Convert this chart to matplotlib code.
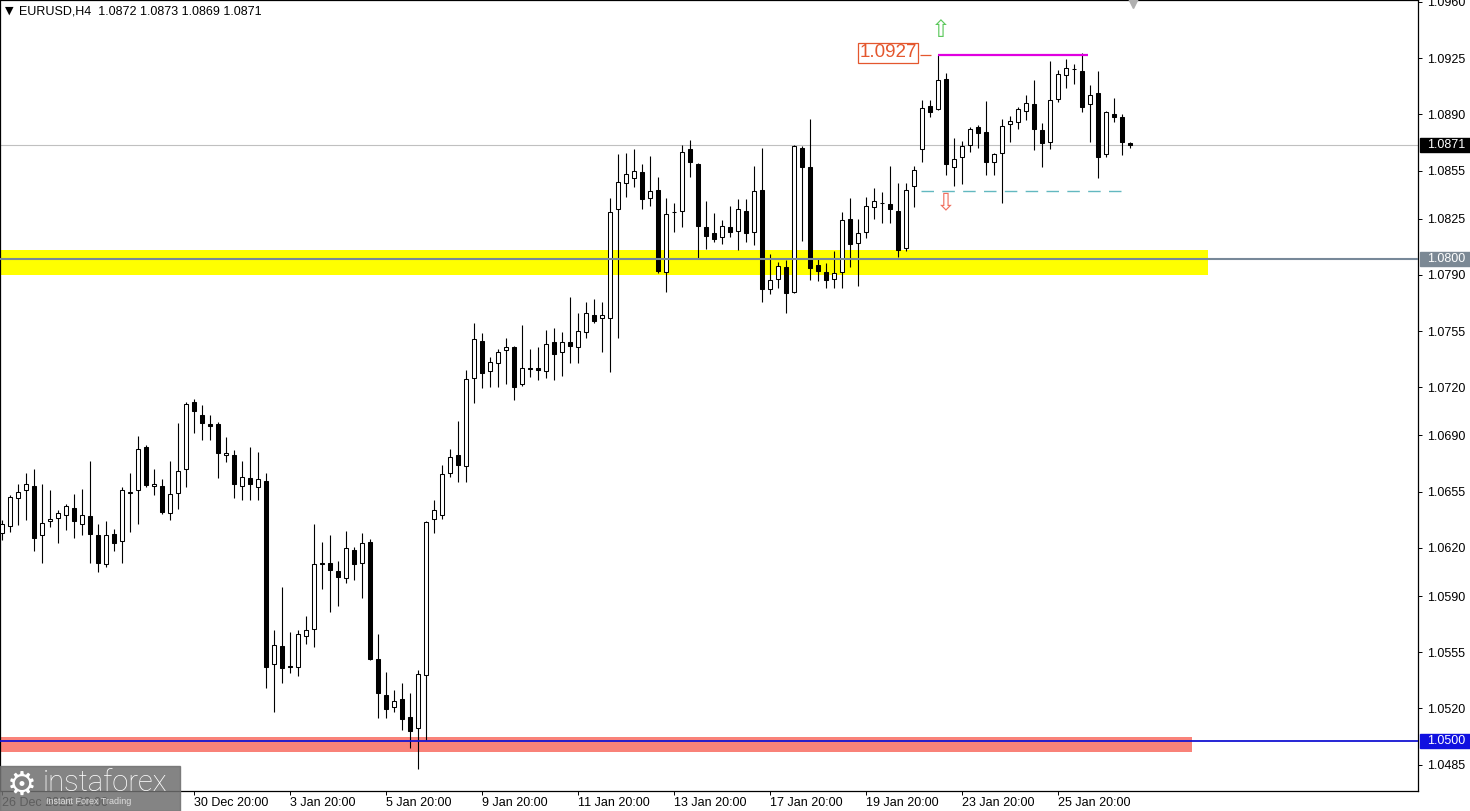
import numpy as np
import matplotlib.pyplot as plt
from matplotlib.patches import Rectangle
import matplotlib.transforms as mtransforms

# EURUSD H4 candles, 26 Dec 2022 20:00 .. 27 Jan 2023
opens = [1.06293, 1.06337, 1.06511, 1.06561, 1.06586, 1.06281, 1.06368, 1.06386, 1.06405, 1.06449,
         1.06349, 1.06399, 1.06281, 1.06100, 1.06287, 1.06243, 1.06542, 1.06561, 1.06829, 1.06586,
         1.06586, 1.06418, 1.06542, 1.06692, 1.07109, 1.07028, 1.06972, 1.06972, 1.06779, 1.06779,
         1.06586, 1.06636, 1.06580, 1.06617, 1.05477, 1.05589, 1.05465, 1.05459, 1.05652, 1.05695,
         1.06106, 1.06106, 1.06056, 1.06013, 1.06187, 1.06106, 1.06237, 1.05508, 1.05284, 1.05210,
         1.05259, 1.05147, 1.05079, 1.05409, 1.06380, 1.06405, 1.06667, 1.06779, 1.06710, 1.07258,
         1.07489, 1.07302, 1.07352, 1.07433, 1.07451, 1.07221, 1.07320, 1.07320, 1.07302, 1.07482,
         1.07420, 1.07482, 1.07451, 1.07545, 1.07650, 1.07632, 1.07632, 1.08311, 1.08472, 1.08504,
         1.08541, 1.08379, 1.08429, 1.07918, 1.08292, 1.08298, 1.08684, 1.08591, 1.08199, 1.08161,
         1.08136, 1.08199, 1.08174, 1.08298, 1.08167, 1.08429, 1.07812, 1.07875, 1.07949, 1.07794,
         1.08690, 1.08572, 1.07962, 1.07918, 1.07875, 1.07918, 1.08248, 1.08099, 1.08167, 1.08323,
         1.08348, 1.08342, 1.08298, 1.08068, 1.08454, 1.08684, 1.08952, 1.08933, 1.09120, 1.08572,
         1.08634, 1.08709, 1.08821, 1.08790, 1.08603, 1.08659, 1.08840, 1.08852, 1.08921, 1.08964,
         1.08803, 1.08728, 1.08996, 1.09145, 1.09182, 1.09170, 1.08964, 1.09033, 1.08653, 1.08902,
         1.08883, 1.08720]
highs = [1.06374, 1.06530, 1.06598, 1.06667, 1.06692, 1.06598, 1.06561, 1.06436, 1.06474, 1.06536,
         1.06567, 1.06741, 1.06349, 1.06368, 1.06318, 1.06580, 1.06667, 1.06897, 1.06841, 1.06692,
         1.06629, 1.06741, 1.06978, 1.07109, 1.07127, 1.07090, 1.07028, 1.06984, 1.06891, 1.06810,
         1.06741, 1.06829, 1.06797, 1.06667, 1.05689, 1.05957, 1.05677, 1.05689, 1.05776, 1.06349,
         1.06237, 1.06281, 1.06119, 1.06306, 1.06206, 1.06293, 1.06256, 1.05664, 1.05428, 1.05315,
         1.05359, 1.05297, 1.05440, 1.06368, 1.06499, 1.06716, 1.06816, 1.06990, 1.07308, 1.07601,
         1.07538, 1.07389, 1.07439, 1.07507, 1.07458, 1.07588, 1.07439, 1.07451, 1.07557, 1.07570,
         1.07545, 1.07763, 1.07663, 1.07731, 1.07750, 1.07731, 1.08379, 1.08653, 1.08659, 1.08684,
         1.08591, 1.08641, 1.08510, 1.08379, 1.08348, 1.08709, 1.08740, 1.08597, 1.08360, 1.08286,
         1.08242, 1.08329, 1.08373, 1.08373, 1.08578, 1.08690, 1.08030, 1.07981, 1.07993, 1.08709,
         1.08703, 1.08871, 1.07999, 1.07974, 1.08049, 1.08292, 1.08379, 1.08248, 1.08385, 1.08441,
         1.08416, 1.08578, 1.08472, 1.08472, 1.08578, 1.08989, 1.08989, 1.09270, 1.09157, 1.08753,
         1.08734, 1.08821, 1.08834, 1.08983, 1.08659, 1.08871, 1.08890, 1.08946, 1.09020, 1.09114,
         1.08846, 1.09232, 1.09176, 1.09245, 1.09213, 1.09280, 1.09083, 1.09170, 1.08921, 1.09002,
         1.08902, 1.08730]
lows = [1.06249, 1.06299, 1.06343, 1.06374, 1.06181, 1.06106, 1.06330, 1.06231, 1.06312, 1.06262,
        1.06281, 1.06106, 1.06050, 1.06081, 1.06181, 1.06106, 1.06299, 1.06349, 1.06580, 1.06530,
        1.06411, 1.06374, 1.06443, 1.06580, 1.06916, 1.06872, 1.06872, 1.06636, 1.06735, 1.06511,
        1.06499, 1.06499, 1.06499, 1.05328, 1.05178, 1.05359, 1.05421, 1.05402, 1.05602, 1.05583,
        1.05944, 1.05801, 1.05838, 1.05982, 1.06000, 1.05888, 1.05502, 1.05141, 1.05141, 1.05178,
        1.05066, 1.04954, 1.04823, 1.05004, 1.06293, 1.06380, 1.06642, 1.06611, 1.06611, 1.07103,
        1.07196, 1.07202, 1.07202, 1.07221, 1.07121, 1.07208, 1.07264, 1.07246, 1.07258, 1.07246,
        1.07271, 1.07352, 1.07352, 1.07507, 1.07601, 1.07420, 1.07296, 1.07507, 1.08385, 1.08448,
        1.08311, 1.08329, 1.07912, 1.07794, 1.08167, 1.08199, 1.08510, 1.08005, 1.08062, 1.08105,
        1.08093, 1.08136, 1.08055, 1.08105, 1.08086, 1.07731, 1.07781, 1.07819, 1.07663, 1.07788,
        1.08111, 1.07868, 1.07862, 1.07819, 1.07819, 1.07819, 1.07949, 1.07831, 1.08130, 1.08248,
        1.08223, 1.08223, 1.08012, 1.08049, 1.08323, 1.08603, 1.08883, 1.08927, 1.08522, 1.08454,
        1.08466, 1.08666, 1.08690, 1.08522, 1.08522, 1.08348, 1.08728, 1.08809, 1.08865, 1.08678,
        1.08572, 1.08684, 1.08977, 1.09064, 1.09089, 1.08915, 1.08728, 1.08504, 1.08634, 1.08852,
        1.08647, 1.08690]
closes = [1.06349, 1.06517, 1.06548, 1.06598, 1.06262, 1.06355, 1.06380, 1.06418, 1.06461, 1.06368,
          1.06405, 1.06287, 1.06106, 1.06281, 1.06231, 1.06561, 1.06548, 1.06816, 1.06592, 1.06598,
          1.06424, 1.06536, 1.06679, 1.07096, 1.07053, 1.06978, 1.06959, 1.06791, 1.06791, 1.06598,
          1.06642, 1.06598, 1.06629, 1.05459, 1.05596, 1.05452, 1.05459, 1.05664, 1.05689, 1.06100,
          1.06100, 1.06063, 1.06019, 1.06200, 1.06100, 1.06231, 1.05508, 1.05297, 1.05197, 1.05247,
          1.05135, 1.05060, 1.05415, 1.06362, 1.06436, 1.06660, 1.06766, 1.06716, 1.07252, 1.07501,
          1.07289, 1.07358, 1.07420, 1.07451, 1.07202, 1.07320, 1.07314, 1.07308, 1.07470, 1.07408,
          1.07482, 1.07458, 1.07551, 1.07663, 1.07613, 1.07650, 1.08292, 1.08479, 1.08529, 1.08547,
          1.08373, 1.08423, 1.07925, 1.08279, 1.08292, 1.08666, 1.08603, 1.08205, 1.08142, 1.08124,
          1.08205, 1.08167, 1.08311, 1.08161, 1.08423, 1.07812, 1.07868, 1.07956, 1.07788, 1.08703,
          1.08572, 1.07943, 1.07925, 1.07868, 1.07912, 1.08242, 1.08093, 1.08161, 1.08329, 1.08360,
          1.08348, 1.08311, 1.08055, 1.08429, 1.08553, 1.08939, 1.08915, 1.09114, 1.08591, 1.08622,
          1.08703, 1.08809, 1.08784, 1.08603, 1.08653, 1.08827, 1.08859, 1.08933, 1.08971, 1.08809,
          1.08722, 1.08989, 1.09151, 1.09189, 1.09182, 1.08946, 1.09020, 1.08634, 1.08915, 1.08883,
          1.08728, 1.08710]

date_ticks = [0, 24, 36, 48, 60, 72, 84, 96, 108, 120, 132]
date_labels = ['26 Dec 2022 20:00', '30 Dec 20:00', '3 Jan 20:00', '5 Jan 20:00', '9 Jan 20:00',
               '11 Jan 20:00', '13 Jan 20:00', '17 Jan 20:00', '19 Jan 20:00', '23 Jan 20:00',
               '25 Jan 20:00']
price_ticks = [1.0960, 1.0925, 1.0890, 1.0855, 1.0825, 1.0790, 1.0755, 1.0720, 1.0690,
               1.0655, 1.0620, 1.0590, 1.0555, 1.0520, 1.0485]

last_price = 1.0871
level_mid = 1.0800
level_low = 1.0500
yellow_zone = (1.0790, 1.08055)
red_zone = (1.04929, 1.05023)
high_level = 1.0927
support_level = 1.0842

plt.rcParams['font.family'] = ['Liberation Sans', 'DejaVu Sans']

fig = plt.figure(figsize=(14.7, 8.11), dpi=100)
ax = fig.add_axes([0, 20 / 811, 1418 / 1470, 791 / 811])
ax.set_xlim(-0.25, 177.0)
ax.set_ylim(1.04686, 1.09612)

x = np.arange(len(opens))
o = np.array(opens)
h = np.array(highs)
l = np.array(lows)
c = np.array(closes)

# zones under the candles
ax.axhspan(*yellow_zone, xmin=0, xmax=1208 / 1418, color='#ffff00', zorder=1, lw=0)
ax.axhspan(*red_zone, xmin=0, xmax=1192 / 1418, color='#f98279', zorder=1, lw=0)
ax.axhline(last_price, color='#c0c0c0', lw=0.8, zorder=2)

# candles
ax.vlines(x, l, h, color='black', lw=0.8, zorder=3)
up = c >= o
ax.bar(x[up], np.maximum(c[up] - o[up], 1e-6), bottom=o[up], width=0.58,
       color='white', edgecolor='black', lw=0.75, zorder=4)
ax.bar(x[~up], o[~up] - c[~up], bottom=c[~up], width=0.58,
       color='black', edgecolor='black', lw=0.75, zorder=4)

# levels over the candles
ax.axhline(level_mid, color='#778899', lw=1.5, zorder=5)
ax.axhline(level_low, color='#1414d2', lw=1.3, zorder=5)
ax.hlines(high_level, 117, 135.75, color='#e000e0', lw=1.6, zorder=5)
ax.hlines(high_level, 114.8, 116.1, color='#e4572e', lw=0.9, zorder=5)
ax.hlines(support_level, 114.9, 140.75, color='#62b8c0', lw=1.0, linestyles=(0, (9, 6)), zorder=5)
ax.text(110.75, 1.09285, '1.0927', fontsize=13.5, color='#e4572e', ha='center', va='center',
        bbox=dict(boxstyle='square,pad=0.08', fc='white', ec='#e4572e', lw=0.9), zorder=6)
ax.text(117.4, 1.09425, '\u21e7', family='DejaVu Sans', fontsize=17, color='#5cc85c',
        ha='center', va='center', zorder=6)
ax.text(118.0, 1.0835, '\u21e9', family='DejaVu Sans', fontsize=17, color='#f07060',
        ha='center', va='center', zorder=6)
ax.plot([141.4], [1.0960], marker='v', ms=8, color='#b0b0b0', clip_on=False, zorder=6)

# axes styling
for s in ax.spines.values():
    s.set_color('black')
    s.set_linewidth(0.9)
ax.yaxis.tick_right()
ax.set_yticks(price_ticks)
ax.set_yticklabels(['%.4f' % p for p in price_ticks])
ax.tick_params(axis='y', length=3, width=0.7, pad=3.5, labelsize=9, colors='black')
ax.set_xticks(date_ticks)
ax.set_xticklabels(date_labels)
for lab in ax.get_xticklabels():
    lab.set_horizontalalignment('left')
ax.tick_params(axis='x', length=3, width=0.7, pad=1.5, labelsize=9, colors='black')

# price boxes on the right scale
trans = mtransforms.blended_transform_factory(ax.transAxes, ax.transData)
box_h = 0.00044
for price, bg in [(last_price, 'black'), (level_mid, '#7b8894'), (level_low, '#1010e0')]:
    ax.add_patch(Rectangle((1.0015, price - box_h), 0.036, 2 * box_h, transform=trans,
                           color=bg, clip_on=False, zorder=7))
    ax.text(1.0065, price, '%.4f' % price, transform=trans, fontsize=9, color='white',
            va='center', ha='left', clip_on=False, zorder=8)

# header
fig.text(5 / 1470, 1 - 11 / 811, '\u25bc', family='DejaVu Sans', fontsize=8, va='center')
fig.text(19 / 1470, 1 - 11 / 811, 'EURUSD,H4  1.0872 1.0873 1.0869 1.0871', fontsize=9, va='center')

# watermark logo (sits over the first date label, as in the source)
fig.patches.append(Rectangle((0, 0), 180 / 1470, 45 / 811, transform=fig.transFigure,
                             color='#6e6e6e', alpha=0.85, zorder=10))
fig.text(22 / 1470, 1 - 785 / 811, '\u2699', family='DejaVu Sans', fontsize=24, color='white',
         ha='center', va='center', zorder=11)
fig.text(43 / 1470, 1 - 783 / 811, 'instaforex', family=['Roboto', 'DejaVu Sans'],
         fontweight='light', fontsize=21, color='white', va='center', zorder=11)
fig.text(46 / 1470, 1 - 802 / 811, 'Instant Forex Trading', fontsize=6.5, color='#dddddd',
         va='center', zorder=11)

fig.savefig('out.png', dpi=100, facecolor='white')
